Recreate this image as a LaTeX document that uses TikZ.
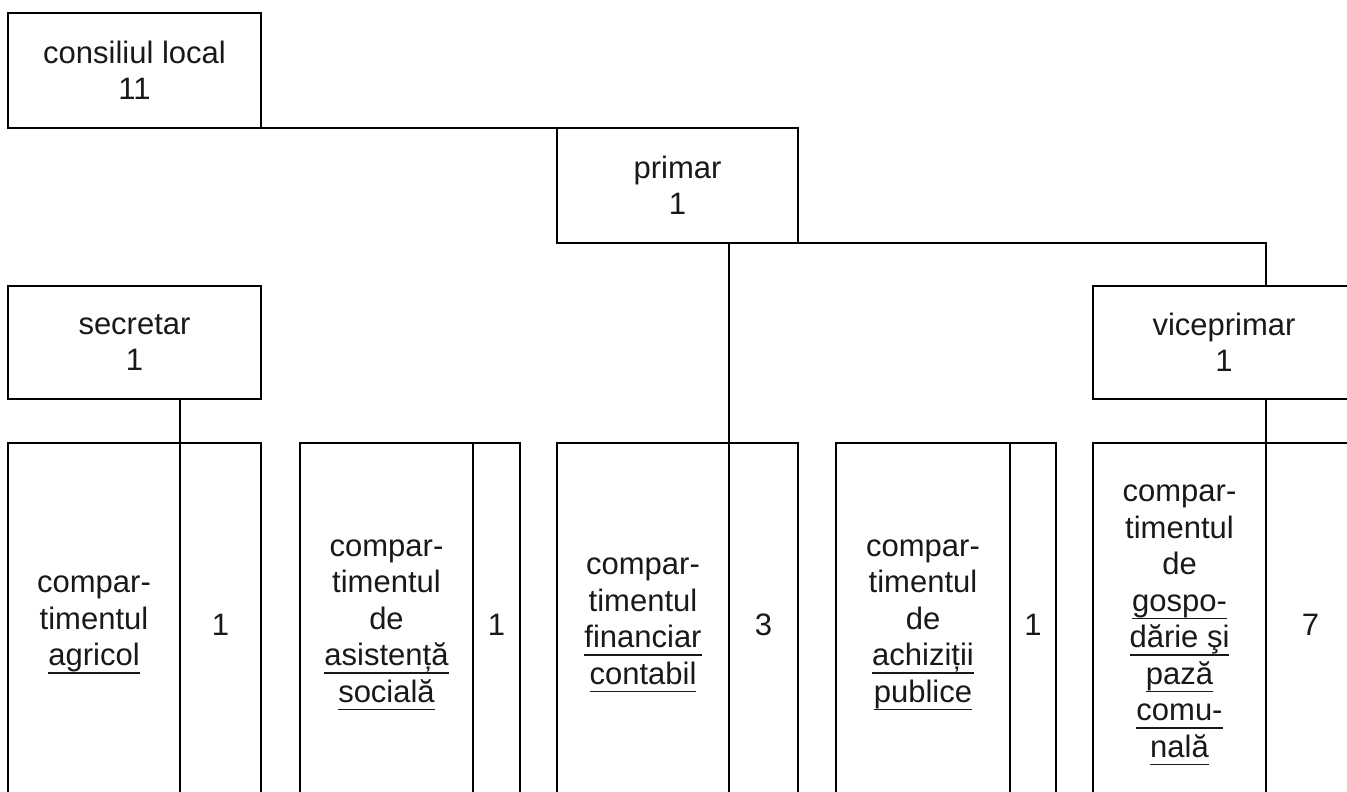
\documentclass[tikz,border=0pt]{standalone}
\usepackage{fontspec}
\setmainfont{Liberation Sans}
\newcommand{\myul}[1]{\setbox0\hbox{#1}\rlap{\rule[-8pt]{\wd0}{1.4pt}}\box0}
\begin{document}
\begin{tikzpicture}[x=1pt,y=-1pt,
  box/.style={draw=black, line width=1.8pt, inner sep=0pt, outer sep=0pt, align=center,
    text=black!90, font={\fontsize{31}{36.5}\selectfont}},
  conn/.style={draw=black, line width=1.8pt}]
\useasboundingbox (0,0) rectangle (1347,792);
\fill[white] (0,0) rectangle (1347,792);
\clip (0,0) rectangle (1347,792);
% top boxes
\node[box, minimum width=253pt, minimum height=115pt] (cl) at (134.5,70.5) {consiliul local\\11};
\node[box, minimum width=241pt, minimum height=115pt] (primar) at (677.5,185.5) {primar\\1};
\node[box, minimum width=253pt, minimum height=113pt] (sec) at (134.5,342.5) {secretar\\1};
\node[box, minimum width=262pt, minimum height=113pt] (vice) at (1224,342.5) {viceprimar\\1};
% bottom boxes
\tikzset{bot/.style={box, minimum height=364pt}}
\node[bot, minimum width=172pt] (b1l) at (94,625) {compar-\\timentul\\\myul{agricol}};
\node[bot, minimum width=81pt] (b1r) at (220.5,625) {1};
\node[bot, minimum width=173pt] (b2l) at (386.5,625) {compar-\\timentul\\de\\\myul{asistență}\\\myul{socială}};
\node[bot, minimum width=47pt] (b2r) at (496.5,625) {1};
\node[bot, minimum width=172pt] (b3l) at (643,625) {compar-\\timentul\\\myul{financiar}\\\myul{contabil}};
\node[bot, minimum width=69pt] (b3r) at (763.5,625) {3};
\node[bot, minimum width=174pt] (b4l) at (923,625) {compar-\\timentul\\de\\\myul{achiziții}\\\myul{publice}};
\node[bot, minimum width=46pt] (b4r) at (1033,625) {1};
\node[bot, minimum width=173pt] (b5l) at (1179.5,625) {compar-\\timentul\\de\\\myul{gospo-}\\\myul{dărie şi}\\\myul{pază}\\\myul{comu-}\\\myul{nală}};
\node[bot, minimum width=89pt] (b5r) at (1310.5,625) {7};
% connectors
\draw[conn] (cl.south east) -- (primar.north west);
\draw[conn] (primar.south -| b3l.east) -- (b3l.north east);
\draw[conn] (primar.south east) -| (vice.north -| b5l.east);
\draw[conn] (vice.south -| b5l.east) -- (b5l.north east);
\draw[conn] (sec.south -| b1l.east) -- (b1l.north east);
\end{tikzpicture}
\end{document}
